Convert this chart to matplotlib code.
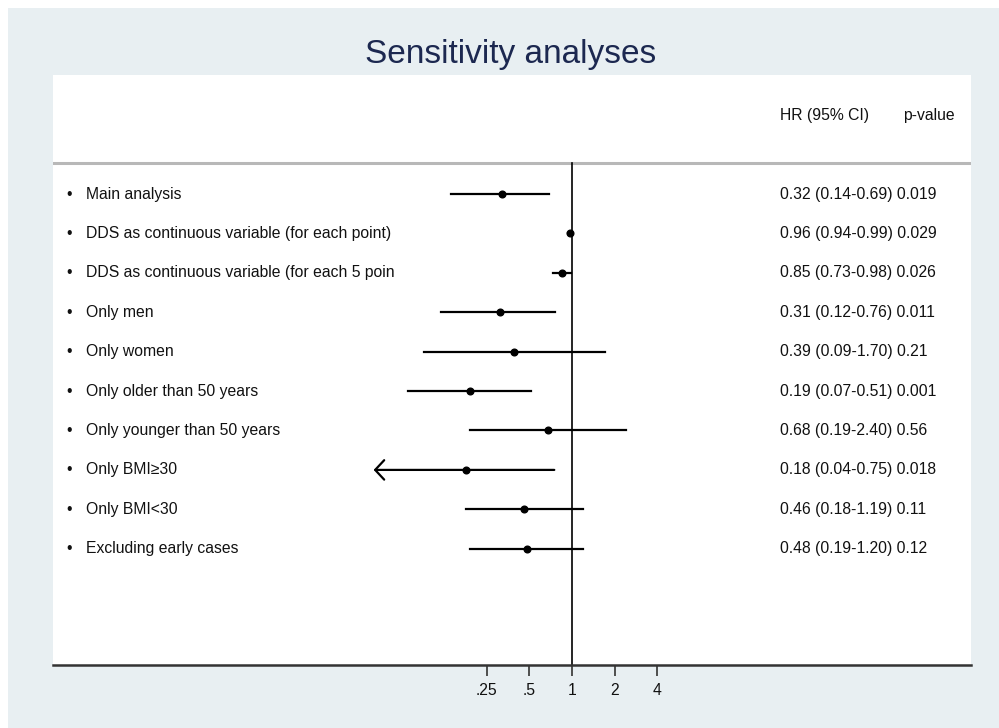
import matplotlib
matplotlib.use("Agg")
import matplotlib.pyplot as plt
import matplotlib.patches as mpatches
import numpy as np

plt.rcParams['font.family'] = ['Liberation Sans', 'DejaVu Sans']

labels = [
    "Main analysis",
    "DDS as continuous variable (for each point)",
    "DDS as continuous variable (for each 5 poin",
    "Only men",
    "Only women",
    "Only older than 50 years",
    "Only younger than 50 years",
    "Only BMI\u226530",
    "Only BMI<30",
    "Excluding early cases",
]
hr = [0.32, 0.96, 0.85, 0.31, 0.39, 0.19, 0.68, 0.18, 0.46, 0.48]
ci_low = [0.14, 0.94, 0.73, 0.12, 0.09, 0.07, 0.19, 0.04, 0.18, 0.19]
ci_high = [0.69, 0.99, 0.98, 0.76, 1.70, 0.51, 2.40, 0.75, 1.19, 1.20]
p_values = ["0.019", "0.029", "0.026", "0.011", "0.21", "0.001", "0.56", "0.018", "0.11", "0.12"]
arrow_left = [False, False, False, False, False, False, False, True, False, False]
tick_values = [0.25, 0.5, 1, 2, 4]
tick_labels = [".25", ".5", "1", "2", "4"]

W, H = 999, 728
FS = 11.3
TXT = '#111111'
fig = plt.figure(figsize=(W / 100, H / 100), dpi=100, facecolor='white')
# light background panel
fig.patches.append(mpatches.Rectangle((8 / W, 0), 1 - 8 / W, 1 - 8 / H, transform=fig.transFigure,
                                      facecolor='#e8eff2', edgecolor='none', zorder=-10))

ax = fig.add_axes([53 / W, 1 - 665 / H, 918 / W, 590 / H])
ax.set_facecolor('white')
ax.set_xscale('log', base=2)
ax.set_xlim(2 ** -12.15, 2 ** 9.34)
ax.set_ylim(12.95, -2.02)

for s in ['top', 'left', 'right']:
    ax.spines[s].set_visible(False)
ax.spines['bottom'].set_linewidth(1.8)
ax.spines['bottom'].set_color('#333333')
ax.set_yticks([])
ax.set_xticks(tick_values)
ax.set_xticklabels(tick_labels, fontsize=FS, color=TXT)
ax.minorticks_off()
ax.tick_params(axis='x', length=8, width=1.2, color='#333333', pad=5, direction='out')

# header separator
ax.axhline(0.21, color='#b8b8b8', lw=2.2, zorder=1)
# null line
ax.plot([1, 1], [0.21, 12.95], color='black', lw=1.2, zorder=2)

tr = ax.get_yaxis_transform()
ax.text(0.792, -1.0, "HR (95% CI)", transform=tr, fontsize=FS, va='center', ha='left', color=TXT)
ax.text(0.926, -1.0, "p-value", transform=tr, fontsize=FS, va='center', ha='left', color=TXT)

ys = np.arange(1, len(labels) + 1)
for i, y in enumerate(ys):
    ax.text(0.0142, y, "\u2022", transform=tr, fontsize=FS, va='center', ha='left', color=TXT)
    ax.text(0.0359, y, labels[i], transform=tr, fontsize=FS, va='center', ha='left', color=TXT)
    ax.text(0.792, y, f"{hr[i]:.2f} ({ci_low[i]:.2f}-{ci_high[i]:.2f}) {p_values[i]}",
            transform=tr, fontsize=FS, va='center', ha='left', color=TXT)
    if arrow_left[i]:
        ax.annotate("", xy=(ci_low[i], y), xytext=(ci_high[i], y),
                    arrowprops=dict(arrowstyle='->,head_length=0.65,head_width=0.7',
                                    lw=1.6, color='black', mutation_scale=10,
                                    shrinkA=0, shrinkB=0))
    else:
        ax.plot([ci_low[i], ci_high[i]], [y, y], color='black', lw=1.6, zorder=3)
    ax.plot(hr[i], y, 'o', color='black', markersize=4.8, zorder=4)

fig.text(511 / W, 1 - 63 / H, "Sensitivity analyses", fontsize=24, color='#1c2850',
         ha='center', va='baseline')

fig.savefig("out.png", dpi=100, facecolor=fig.get_facecolor())
